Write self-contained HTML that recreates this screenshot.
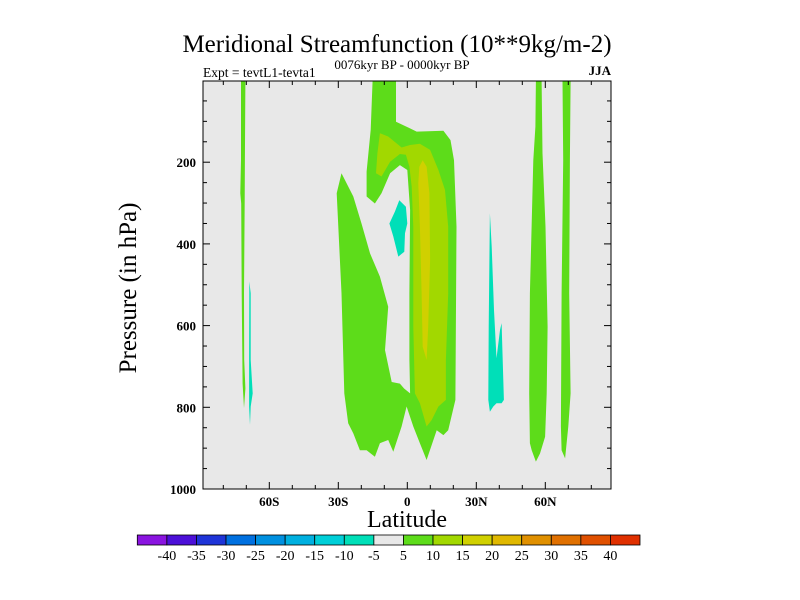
<!DOCTYPE html>
<html><head><meta charset="utf-8"><style>
html,body{margin:0;padding:0;background:#fff;}
svg{display:block;font-family:"Liberation Serif",serif;}
</style></head><body>
<svg id="chart" width="800" height="600" viewBox="0 0 800 600" xmlns="http://www.w3.org/2000/svg">
<text x="397" y="52" font-size="25" text-anchor="middle">Meridional Streamfunction (10**9kg/m-2)</text>
<text x="402" y="69" font-size="13" text-anchor="middle">0076kyr BP - 0000kyr BP</text>
<text x="203" y="77" font-size="13.5">Expt = tevtL1-tevta1</text>
<text x="611" y="75" font-size="13" font-weight="bold" text-anchor="end">JJA</text>
<defs><clipPath id="plotclip"><rect x="203" y="81" width="408" height="408"/></clipPath></defs>
<rect x="203" y="81" width="408" height="408" fill="#e8e8e8"/>
<g id="contours" clip-path="url(#plotclip)"></g>
<g id="axes"></g>
<rect x="203" y="81" width="408" height="408" fill="none" stroke="#000" stroke-width="1"/>
<text x="407" y="527" font-size="24" text-anchor="middle">Latitude</text>
<text x="0" y="0" font-size="25" text-anchor="middle" transform="translate(136,288) rotate(-90)">Pressure (in hPa)</text>
<g id="colorbar"></g>
</svg>
<script>
const xTickLabels = ["60S","30S","0","30N","60N"];
const xTickValues = [-60,-30,0,30,60];
const yTickValues = [200,400,600,800,1000];
const levelLabels = ["-40","-35","-30","-25","-20","-15","-10","-5","5","10","15","20","25","30","35","40"];
const levelColors = ["#8a14e0","#4c10d8","#1e34d8","#0070e0","#0090e0","#00b0e0","#00cfd8","#00dfb8","#e8e8e8","#5ddc1a","#a2d800","#d0d000","#e0b800","#e09000","#e07000","#e05000","#e03000"];

const green1 = [[-15.1,0],[-4.9,0],[-4.9,101],[-0.3,113],[4.1,125],[15.7,123],[18.8,146],[20.3,195],[21.4,358],[20.9,782],[17.8,856],[15.7,868],[12.8,856],[8.4,929],[5.5,888],[2.6,847],[-0.3,798],[-2.5,847],[-6.1,909],[-8.3,880],[-11.9,888],[-14.1,921],[-17.7,905],[-20.6,905],[-23.5,864],[-25.7,839],[-27.4,766],[-28.6,521],[-30.7,276],[-28.6,227],[-23.5,284],[-19.9,350],[-16.2,423],[-11.9,480],[-8.3,554],[-9.7,660],[-6.8,738],[-3.2,742],[-1.4,754],[1.2,766],[0.9,684],[0.9,521],[1.2,317],[0,219],[-3.2,207],[-7.5,227],[-11.2,276],[-14.1,301],[-17.7,284],[-17.7,223],[-15.9,121]];
const level10 = [[-11.9,129],[-8.3,137],[-2.5,164],[1.2,158],[5.5,155],[9.9,170],[13.5,219],[16.4,268],[17.8,358],[17.8,521],[16.8,684],[16.8,782],[13.5,798],[10.6,831],[8.4,847],[5.5,790],[3.3,766],[2.6,603],[2.6,358],[1.9,260],[0.9,211],[-0.6,182],[-3.2,180],[-7.5,199],[-11.2,235],[-13.6,227],[-13.0,178]];
const level15 = [[6.7,195],[8.4,211],[9.6,276],[9.9,439],[9.1,603],[8.4,684],[6.7,652],[6.2,521],[5.5,358],[4.8,252],[5.2,211]];
const cyanCenter = [[-3.5,293],[-0.6,309],[0,350],[-1.0,374],[-1.3,419],[-3.9,431],[-6.1,382],[-7.8,350],[-5.4,321]];
const cyanNorth = [[35.9,325],[36.7,407],[37.7,562],[38.8,680],[40.3,611],[41.0,594],[41.4,668],[42.0,782],[41.0,790],[38.8,790],[37.4,798],[35.9,811],[35.2,782],[35.4,603],[35.7,439]];
const cyanSouth = [[-68.7,492],[-68.1,521],[-68.1,684],[-67.2,766],[-68.1,798],[-68.4,843],[-68.8,798],[-68.8,684],[-68.7,521]];
const greenSouth = [[-72.3,0],[-70.4,0],[-70.6,195],[-70.7,292],[-71.0,521],[-70.9,684],[-70.4,754],[-71.0,802],[-71.6,742],[-72.0,521],[-72.2,301],[-72.6,276],[-72.3,195]];
const greenNorth1 = [[55.9,0],[58.4,0],[58.8,178],[60.1,358],[61.0,603],[60.6,766],[59.9,872],[57.7,913],[55.9,933],[54.1,905],[53.3,888],[53.0,766],[53.3,521],[54.8,195],[55.7,113]];
const greenNorth2 = [[67.5,0],[71.0,0],[70.7,195],[70.4,521],[71.0,766],[70.0,847],[68.6,925],[67.1,905],[66.8,847],[67.1,521],[67.8,195]];

const NS = "http://www.w3.org/2000/svg";
function xScale(lat){ return 407.3 + lat*2.3; }
function yScale(p){ return 80.5 + p*0.4085; }
function mk(tag, attrs, parent){ const e=document.createElementNS(NS,tag); for(const k in attrs) e.setAttribute(k,attrs[k]); parent.appendChild(e); return e; }

const cg = document.getElementById('contours');
const shapes = [
  [green1,"#5ddc1a","contour-5-10-main"],
  [level10,"#a2d800","contour-10-15"],
  [level15,"#d0d000","contour-15-20"],
  [cyanCenter,"#00dfb8","contour-neg5-center"],
  [cyanNorth,"#00dfb8","contour-neg5-north"],
  [cyanSouth,"#00dfb8","contour-neg5-south"],
  [greenSouth,"#5ddc1a","contour-5-10-south"],
  [greenNorth1,"#5ddc1a","contour-5-10-north-60"],
  [greenNorth2,"#5ddc1a","contour-5-10-north-70"]
];
shapes.forEach(s=>{
  const pts = s[0].map(d=>xScale(d[0]).toFixed(1)+","+yScale(d[1]).toFixed(1)).join(" ");
  const el = mk('polygon',{points:pts,fill:s[1]},cg);
  
  
});

const ag = document.getElementById('axes');
for(let lat=-80; lat<=80; lat+=10){
  const major = lat%30===0;
  const L = major?7:4;
  const x = xScale(lat);
  const t1 = mk('line',{x1:x,x2:x,y1:489,y2:489-L,stroke:"#000"},ag);
  
  
  const t2 = mk('line',{x1:x,x2:x,y1:81,y2:81+L,stroke:"#000"},ag);
  
  
}
xTickValues.forEach((v,i)=>{
  const t = mk('text',{x:xScale(v),y:506,"font-size":"13","font-weight":"bold","text-anchor":"middle"},ag);
  t.textContent = xTickLabels[i];
  
  
});
for(let p=50; p<=1000; p+=50){
  const major = p%200===0;
  const L = major?7:4;
  const y = yScale(p);
  const t1 = mk('line',{x1:203,x2:203+L,y1:y,y2:y,stroke:"#000"},ag);
  
  
  const t2 = mk('line',{x1:611,x2:611-L,y1:y,y2:y,stroke:"#000"},ag);
  
  
}
yTickValues.forEach(v=>{
  const t = mk('text',{x:196,y:yScale(v)+5,"font-size":"13","font-weight":"bold","text-anchor":"end"},ag);
  t.textContent = String(v);
  
  
});

const cb = document.getElementById('colorbar');
const cbx0 = 137.3, cbx1 = 640, cby = 535, cbh = 10;
const bw = (cbx1-cbx0)/levelColors.length;
levelColors.forEach((c,i)=>{
  const r = mk('rect',{x:cbx0+i*bw,y:cby,width:bw,height:cbh,fill:c,stroke:"#000","stroke-width":"0.8"},cb);
  
  
});
levelLabels.forEach((l,i)=>{
  const t = mk('text',{x:cbx0+(i+1)*bw,y:560,"font-size":"14","text-anchor":"middle"},cb);
  t.textContent = l;
  
  
});
</script>
</body></html>
